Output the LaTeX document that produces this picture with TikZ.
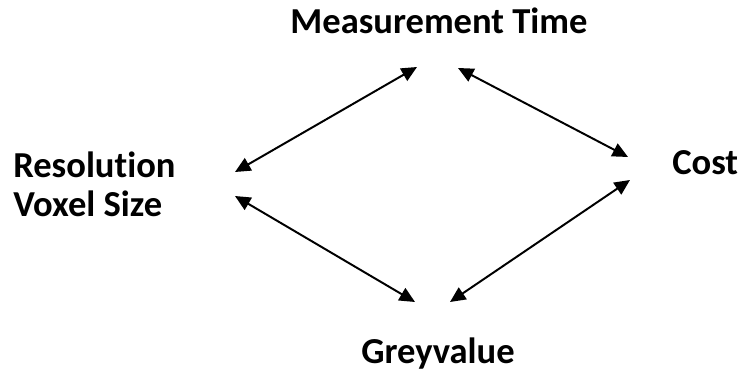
\documentclass[tikz,border=0pt]{standalone}
\usepackage{fontspec}
\setmainfont{Carlito}[Ligatures=NoCommon]
\usetikzlibrary{arrows.meta,calc}

\begin{document}
\begin{tikzpicture}[x=0.025cm, y=-0.025cm,
  every node/.style={font=\bfseries\fontsize{26}{27.5}\selectfont, inner sep=0pt},
  link/.style={{Triangle[length=11pt,width=10pt]}-{Triangle[length=11pt,width=10pt]}, line width=1.4pt}]
  \useasboundingbox (0,0) rectangle (740,372);

  \node[anchor=base] (time) at (439,34) {Measurement Time};
  \node[anchor=west, align=left] (res) at (13,184) {Resolution\\Voxel Size};
  \node[anchor=base west] (cost) at (672,175) {Cost};
  \node[anchor=base] (grey) at (438,363) {Greyvalue};

  \draw[link] ($(res.west)+(222,-12)$) -- ($(time.base)+(-22,33)$);
  \draw[link] ($(time.base)+(19,34)$) -- ($(cost.base west)+(-44,-18)$);
  \draw[link] ($(res.west)+(222,12)$) -- ($(grey.base)+(-23,-61)$);
  \draw[link] ($(grey.base)+(12,-61)$) -- ($(cost.base west)+(-42,5)$);
\end{tikzpicture}
\end{document}
